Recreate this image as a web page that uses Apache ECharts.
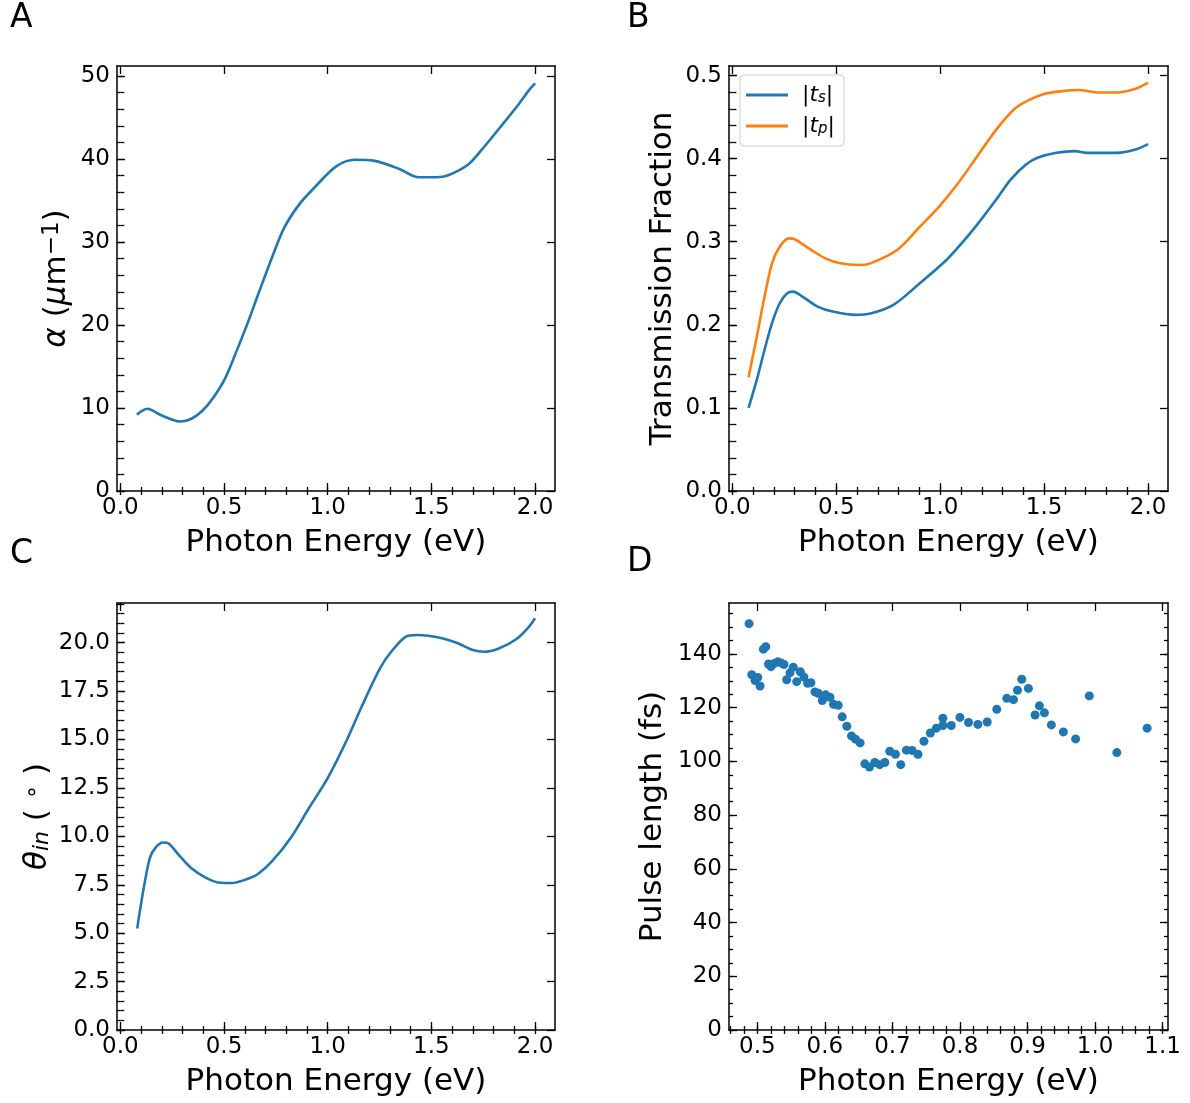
<!DOCTYPE html>
<html><head><meta charset="utf-8">
<script src="https://cdn.jsdelivr.net/npm/echarts@6/dist/echarts.min.js"></script>
<style>html,body{margin:0;padding:0;background:#fff}#c{width:1190px;height:1103px}</style>
</head><body><div id="c"></div><script>
// ---------- DATA ----------
// Panel A: absorption coefficient
const energyA = [0.08,0.13,0.2,0.29,0.343,0.397,0.45,0.504,0.558,0.612,0.665,0.737,0.79,0.862,0.934,1.041,1.131,1.22,1.345,1.435,1.524,1.578,1.676,1.739,1.828,1.918,1.971,2.0];
const alpha   = [9.2,9.9,9.1,8.37,8.7,9.7,11.3,13.5,16.7,20.1,23.7,28.5,31.7,34.5,36.5,39.1,39.9,39.8,38.8,37.8,37.8,38.0,39.3,41.0,43.7,46.5,48.3,49.1];
// Panel B: transmission fractions
const energyTs = [0.078,0.118,0.155,0.191,0.228,0.264,0.292,0.337,0.41,0.483,0.593,0.665,0.775,0.902,1.03,1.103,1.176,1.267,1.34,1.413,1.468,1.559,1.65,1.705,1.76,1.85,1.94,2.0];
const ts       = [0.100,0.134,0.170,0.202,0.226,0.238,0.240,0.234,0.222,0.216,0.212,0.2136,0.224,0.250,0.278,0.298,0.320,0.350,0.375,0.393,0.401,0.407,0.409,0.407,0.407,0.407,0.411,0.4175];
const energyTp = [0.078,0.118,0.155,0.191,0.228,0.273,0.30,0.374,0.447,0.52,0.61,0.665,0.793,0.902,0.994,1.085,1.176,1.267,1.358,1.431,1.504,1.577,1.668,1.741,1.777,1.868,1.94,2.0];
const tp       = [0.137,0.186,0.234,0.274,0.294,0.304,0.303,0.291,0.280,0.274,0.272,0.274,0.290,0.318,0.342,0.370,0.402,0.434,0.460,0.471,0.478,0.481,0.4826,0.480,0.4796,0.480,0.484,0.4916];
// Panel C: internal angle
const energyC = [0.082,0.089,0.116,0.143,0.17,0.206,0.233,0.286,0.34,0.411,0.483,0.537,0.608,0.662,0.733,0.823,0.912,1.002,1.091,1.163,1.252,1.306,1.377,1.431,1.485,1.556,1.628,1.7,1.753,1.825,1.914,1.968,2.0];
const thetaIn = [5.24,5.79,7.52,8.9,9.42,9.68,9.63,8.99,8.38,7.87,7.6,7.59,7.78,8.04,8.73,9.94,11.5,13.05,14.95,16.68,18.67,19.53,20.31,20.4,20.36,20.22,19.97,19.62,19.53,19.7,20.22,20.79,21.26];
// Panel D: pulse length
const energyD = [0.4877,0.4917,0.4966,0.5006,0.504,0.5089,0.5124,0.5164,0.5202,0.5251,0.5301,0.535,0.5394,0.5434,0.5483,0.5532,0.5582,0.5635,0.569,0.5744,0.5793,0.5852,0.5902,0.5961,0.6011,0.6075,0.6128,0.6197,0.6256,0.6325,0.6394,0.6453,0.6522,0.6591,0.666,0.6739,0.6812,0.6887,0.696,0.7044,0.7123,0.7207,0.729,0.7378,0.7467,0.7561,0.765,0.7747,0.7747,0.7871,0.7999,0.8127,0.8265,0.8403,0.8545,0.8693,0.8792,0.8851,0.8914,0.9013,0.9112,0.9176,0.925,0.9353,0.9531,0.9712,0.9915,1.0323,1.0771];
const pulseLen = [151.3,132.3,130.1,131.3,128.1,141.8,142.7,136.3,135.3,136.5,137.1,136.7,136.1,130.4,133.0,135.1,129.7,133.4,131.4,129.1,129.3,125.9,125.4,122.7,124.8,123.9,121.3,120.9,116.6,113.1,109.5,108.3,106.9,99.1,97.9,99.6,98.8,99.6,103.8,102.7,98.8,104.2,104.1,102.7,107.5,110.6,112.4,116.1,113.4,113.4,116.4,114.5,113.8,114.7,119.4,123.5,123.0,126.5,130.6,127.2,117.3,120.7,118.1,113.6,111.0,108.4,124.4,103.3,112.4];
// Tick labels
const ticksE = [0.0,0.5,1.0,1.5,2.0];
const ticksAlpha = [0,10,20,30,40,50];
const ticksT = [0.0,0.1,0.2,0.3,0.4,0.5];
const ticksTheta = [0.0,2.5,5.0,7.5,10.0,12.5,15.0,17.5,20.0];
const ticksED = [0.5,0.6,0.7,0.8,0.9,1.0,1.1];
const ticksPulse = [0,20,40,60,80,100,120,140];

// ---------- STYLE ----------
const FONT = 'DejaVu Sans';
const BLUE = '#1f77b4', ORANGE = '#ff7f0e';
const TICKFS = 23, NAMEFS = 31;
function steps(a, b, s){ const o=[]; const n=Math.round((b-a)/s); for(let i=0;i<=n;i++) o.push(+(a+i*s).toFixed(6)); return o; }
function zip(x, y){ return x.map((v,i)=>[v,y[i]]); }

const panels = [
  {grid:{left:117,top:66,width:438,height:425}, xMin:-0.016,xMax:2.096, xMajor:ticksE, xMinor:steps(0,2,0.1), xDec:1,
   yMin:0,yMax:51.2, yMajor:ticksAlpha, yMinor:steps(0,50,2), yDec:0,
   yName:'{it|α} ({it|μ}m{sup|−1})', yGap:45},
  {grid:{left:729,top:66,width:439,height:425}, xMin:-0.016,xMax:2.096, xMajor:ticksE, xMinor:steps(0,2,0.1), xDec:1,
   yMin:0,yMax:0.5115, yMajor:ticksT, yMinor:steps(0,0.5,0.02), yDec:1,
   yName:'Transmission Fraction', yGap:51},
  {grid:{left:117,top:603,width:438,height:427}, xMin:-0.016,xMax:2.096, xMajor:ticksE, xMinor:steps(0,2,0.1), xDec:1,
   yMin:0,yMax:22.05, yMajor:ticksTheta, yMinor:steps(0,22,0.5), yDec:1,
   yName:'{it|θ}{sub|in} ( {sup|∘} )', yGap:64},
  {grid:{left:729,top:603,width:439,height:427}, xMin:0.458,xMax:1.108, xMajor:ticksED, xMinor:steps(0.46,1.10,0.02), xDec:1,
   yMin:0,yMax:159, yMajor:ticksPulse, yMinor:steps(0,155,5), yDec:0,
   yName:'Pulse length (fs)', yGap:61}
];

const axLine = {show:true, onZero:false, lineStyle:{color:'#000', width:1.5}};
const tickStyle = {color:'#000', width:1.3};
const richName = {
  it:{fontStyle:'italic', fontSize:NAMEFS, fontFamily:FONT, color:'#000'},
  sup:{fontSize:23, fontFamily:FONT, color:'#000', verticalAlign:'top'},
  sub:{fontStyle:'italic', fontSize:22, fontFamily:FONT, color:'#000', verticalAlign:'bottom'}
};
const grids=[], xAxes=[], yAxes=[];
panels.forEach((p,g)=>{
  grids.push(p.grid);
  const baseX = {gridIndex:g, type:'value', min:p.xMin, max:p.xMax, splitLine:{show:false}};
  const baseY = {gridIndex:g, type:'value', min:p.yMin, max:p.yMax, splitLine:{show:false}};
  xAxes.push(Object.assign({}, baseX, {position:'bottom', axisLine:axLine,
    axisTick:{inside:true, length:8, customValues:p.xMajor, lineStyle:tickStyle},
    axisLabel:{customValues:p.xMajor, formatter:v=>v.toFixed(p.xDec), fontSize:TICKFS, fontFamily:FONT, color:'#000', margin:6},
    name:'Photon Energy (eV)', nameLocation:'middle', nameGap:36,
    nameTextStyle:{fontSize:NAMEFS, fontFamily:FONT, color:'#000'}}));
  xAxes.push(Object.assign({}, baseX, {position:'bottom', axisLine:{show:false},
    axisTick:{inside:true, length:4, customValues:p.xMinor, lineStyle:tickStyle}, axisLabel:{show:false}}));
  xAxes.push(Object.assign({}, baseX, {position:'top', axisLine:axLine,
    axisTick:{inside:true, length:8, customValues:p.xMajor, lineStyle:tickStyle}, axisLabel:{show:false}}));
  xAxes.push(Object.assign({}, baseX, {position:'top', axisLine:{show:false},
    axisTick:{inside:true, length:4, customValues:p.xMinor, lineStyle:tickStyle}, axisLabel:{show:false}}));

  yAxes.push(Object.assign({}, baseY, {position:'left', axisLine:axLine,
    axisTick:{inside:true, length:8, customValues:p.yMajor, lineStyle:tickStyle},
    axisLabel:{customValues:p.yMajor, formatter:v=>v.toFixed(p.yDec), fontSize:TICKFS, fontFamily:FONT, color:'#000', margin:7},
    name:p.yName, nameLocation:'middle', nameRotate:90, nameGap:p.yGap,
    nameTextStyle:{fontSize:NAMEFS, fontFamily:FONT, color:'#000', rich:richName}}));
  yAxes.push(Object.assign({}, baseY, {position:'left', axisLine:{show:false},
    axisTick:{inside:true, length:4, customValues:p.yMinor, lineStyle:tickStyle}, axisLabel:{show:false}}));
  yAxes.push(Object.assign({}, baseY, {position:'right', axisLine:axLine,
    axisTick:{inside:true, length:8, customValues:p.yMajor, lineStyle:tickStyle}, axisLabel:{show:false}}));
  yAxes.push(Object.assign({}, baseY, {position:'right', axisLine:{show:false},
    axisTick:{inside:true, length:4, customValues:p.yMinor, lineStyle:tickStyle}, axisLabel:{show:false}}));
});

function lineSeries(name, g, data, color){
  return {name, type:'line', xAxisIndex:g*4, yAxisIndex:g*4, data, showSymbol:false, smooth:0.3,
    lineStyle:{color, width:2.6}, itemStyle:{color}, animation:false, z:3};
}

const letterStyle = {fontSize:33, fontWeight:'normal', fontFamily:FONT, color:'#000'};
const option = {
  backgroundColor:'#fff',
  animation:false,
  title:[
    {text:'A', left:10, top:2, padding:0, textStyle:letterStyle},
    {text:'B', left:627, top:2, padding:0, textStyle:letterStyle},
    {text:'C', left:10, top:538, padding:0, textStyle:letterStyle},
    {text:'D', left:627, top:546, padding:0, textStyle:letterStyle}
  ],
  grid:grids, xAxis:xAxes, yAxis:yAxes,
  legend:{
    data:['|t_s|','|t_p|'], orient:'vertical', left:740, top:75,
    padding:[9,9,9,6], itemGap:9, itemWidth:42, itemHeight:3, icon:'rect',
    backgroundColor:'rgba(255,255,255,0.8)', borderColor:'#cccccc', borderWidth:1, borderRadius:4,
    formatter:n=> n==='|t_s|' ? '{gap| }|{it|t}{sub|s}|' : '{gap| }|{it|t}{sub|p}|',
    textStyle:{fontSize:22, fontFamily:FONT, color:'#000',
      rich:{gap:{width:9, fontSize:22}, it:{fontStyle:'italic', fontSize:22, fontFamily:FONT},
            sub:{fontStyle:'italic', fontSize:15, fontFamily:FONT, verticalAlign:'bottom'}}}
  },
  series:[
    lineSeries('alpha',0,zip(energyA,alpha),BLUE),
    lineSeries('|t_s|',1,zip(energyTs,ts),BLUE),
    lineSeries('|t_p|',1,zip(energyTp,tp),ORANGE),
    lineSeries('theta',2,zip(energyC,thetaIn),BLUE),
    {name:'pulse', type:'scatter', xAxisIndex:12, yAxisIndex:12, data:zip(energyD,pulseLen),
     symbolSize:9, itemStyle:{color:BLUE, opacity:1}, animation:false, z:3}
  ]
};
const chart = echarts.init(document.getElementById('c'), null, {renderer:'canvas'});
chart.setOption(option);
</script></body></html>
